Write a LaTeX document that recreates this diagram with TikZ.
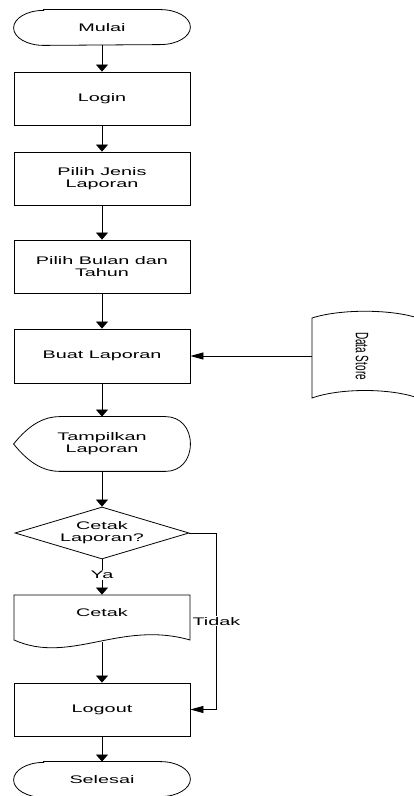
\documentclass[tikz,border=0pt]{standalone}
\usepackage{fontspec}
\setmainfont{Liberation Sans}[FakeStretch=1.8]
\newfontfamily\dsfont{Liberation Sans}[FakeStretch=0.556]
\usepackage{graphicx}
\usepackage{tikz}
\usetikzlibrary{shapes.geometric}
\usetikzlibrary{arrows.meta}

\tikzset{
    flow/.style={-{Triangle[length=7pt,width=12pt]}},
    flowh/.style={-{Triangle[length=13pt,width=7pt]}},
    procbox/.style={draw, rectangle, align=center, inner sep=0pt, minimum width=176pt, minimum height=53pt},
    termbox/.style={rectangle, align=center, inner sep=0pt, minimum width=176pt, minimum height=35pt},
    shapebox/.style={rectangle, align=center, inner sep=0pt, minimum width=176pt}
}

\begin{document}
\begin{tikzpicture}[x=1pt, y=1pt, line width=0.8pt, font=\fontsize{11}{12}\selectfont]
    \useasboundingbox (0,0) rectangle (414,796);

    % main flow
    \node[termbox] (mulai) at (102,768.5) {Mulai};
    \node[procbox] (login) at (102,697.5) {Login};
    \node[procbox] (jenis) at (102,617.5) {Pilih Jenis\\Laporan};
    \node[procbox] (bulan) at (102,529.5) {Pilih Bulan dan\\Tahun};
    \node[procbox, minimum height=54pt] (buat) at (102,440) {Buat Laporan};
    \node[shapebox, minimum height=54pt] (tampil) at (102,352) {Tampilkan\\Laporan};
    \node[draw, diamond, aspect=3.35, inner sep=0pt, minimum width=174pt, minimum height=52pt, align=center] (cetakq) at (102,263) {Cetak\\Laporan?};
    \node[shapebox, minimum height=36pt] (cetak) at (102,183) {Cetak};
    \coordinate (cetakout) at (102,154.1);
    \node[procbox] (logout) at (102,86.5) {Logout};
    \node[termbox] (selesai) at (102,16.5) {Selesai};

    % data store
    \node[rectangle, inner sep=0pt, minimum width=100pt, minimum height=80pt] (ds) at (362,440) {\dsfont\fontsize{18}{20}\selectfont\rotatebox{-90}{Data Store}};

    % outlines
    \foreach \t in {mulai,selesai} {
        \draw ([xshift=30pt]\t.north west) -- ([xshift=-30pt]\t.north east)
            arc[start angle=90, end angle=-90, x radius=30, y radius=17.5]
            -- ([xshift=30pt]\t.south west)
            arc[start angle=270, end angle=90, x radius=30, y radius=17.5] -- cycle;
    }
    \draw (tampil.west) .. controls +(16,20) and +(-15,0) .. ([xshift=46pt]tampil.north west)
        -- ([xshift=-25pt]tampil.north east) .. controls +(15,0) and +(0,16) .. (tampil.east)
        .. controls +(0,-16) and +(15,0) .. ([xshift=-25pt]tampil.south east)
        -- ([xshift=46pt]tampil.south west) .. controls +(-15,0) and +(16,-20) .. (tampil.west) -- cycle;
    \draw (14,201) -- (190,201) -- (190,156) .. controls (120,176) and (70,131) .. (14,156) -- cycle;
    \draw (312,478) .. controls (340,487) and (390,487) .. (418,478) -- (418,398)
        .. controls (390,408) and (340,408) .. (312,398) -- cycle;

    % connectors
    \draw[flow] (mulai) -- (login);
    \draw[flow] (login) -- (jenis);
    \draw[flow] (jenis) -- (bulan);
    \draw[flow] (bulan) -- (buat);
    \draw[flow] (buat) -- (tampil);
    \draw[flow] (tampil) -- (cetakq);
    \draw[flow] (cetakq.south) -- node[fill=white, inner sep=1pt, pos=0.45] {Ya} (cetak.north);
    \draw[flow] (cetakout) -- (logout);
    \draw[flow] (logout) -- (selesai);
    \draw[flowh] (ds.west) -- (buat.east);
    \draw[flowh] (cetakq.east) -- ++(27,0) |- node[fill=white, inner sep=1pt, pos=0.25] {Tidak} (logout.east);
\end{tikzpicture}
\end{document}
